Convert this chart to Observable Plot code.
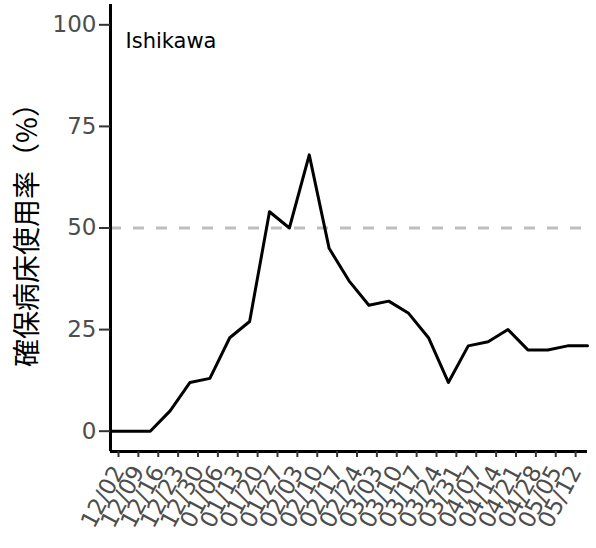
<!DOCTYPE html>
<html>
<head>
<meta charset="utf-8">
<script src="https://cdn.jsdelivr.net/npm/d3@7"></script>
<script src="https://cdn.jsdelivr.net/npm/@observablehq/plot@0.6"></script>
<style>
  html, body { margin: 0; padding: 0; background: #fff; }
  #chart svg { display: block; }
</style>
</head>
<body>
<div id="chart"></div>
<script>
// Weekly observation dates (last point has no tick label)
const dates = [
  "2020-12-02","2020-12-09","2020-12-16","2020-12-23","2020-12-30",
  "2021-01-06","2021-01-13","2021-01-20","2021-01-27","2021-02-03",
  "2021-02-10","2021-02-17","2021-02-24","2021-03-03","2021-03-10",
  "2021-03-17","2021-03-24","2021-03-31","2021-04-07","2021-04-14",
  "2021-04-21","2021-04-28","2021-05-05","2021-05-12","2021-05-19"
];
// Secured-bed occupancy rate (%)
const rate = [0,0,0,5,12,13,23,27,54,50,68,45,37,31,32,29,23,12,21,22,25,20,20,21,21];
// Tick labels on the x axis
const tickDates = dates.slice(0, 24);
const yTicks = [0, 25, 50, 75, 100];
const threshold = [50];
const prefecture = ["Ishikawa"];
const yTitle = ["確保病床使用率（%）"];

const parse = d3.utcParse("%Y-%m-%d");
const data = dates.map((d, i) => ({date: parse(d), rate: rate[i]}));
const xDomain = d3.extent(data, d => d.date);
const yDomain = [-5, 105];

const chart = Plot.plot({
  width: 596,
  height: 548,
  marginLeft: 110,
  marginRight: 9,
  marginTop: 4,
  marginBottom: 97,
  style: {fontFamily: "'DejaVu Sans', sans-serif", background: "#fff"},
  x: {type: "utc", domain: xDomain},
  y: {domain: yDomain},
  marks: [
    Plot.ruleY(threshold, {stroke: "#BEBEBE", strokeWidth: 2.8, strokeDasharray: "11,12"}),
    Plot.line(data, {x: "date", y: "rate", stroke: "#000", strokeWidth: 3}),
    Plot.ruleX([xDomain[0]], {stroke: "#000", strokeWidth: 3}),
    Plot.ruleY([yDomain[0]], {stroke: "#000", strokeWidth: 3}),
    Plot.axisY({ticks: yTicks, tickSize: 11, tickPadding: 3, fontSize: 23, fill: "#4D4D4D", stroke: "#333", strokeWidth: 2, label: null}),
    Plot.axisX({ticks: tickDates.map(parse), tickFormat: d3.utcFormat("%m/%d"), tickSize: 6, tickPadding: 10, tickRotate: -62, dx: 8, fontSize: 23, fill: "#4D4D4D", stroke: "#333", strokeWidth: 2, label: null}),
    Plot.text(prefecture, {frameAnchor: "top-left", dx: 15, dy: 29, fontSize: 21, textAnchor: "start", lineAnchor: "top", fill: "#000"}),
    Plot.text(yTitle, {frameAnchor: "left", dx: -82, rotate: -90, textAnchor: "middle", fontSize: 28, fontFamily: "'Noto Sans CJK JP'", fill: "#000"})
  ]
});
document.getElementById("chart").appendChild(chart);
</script>
</body>
</html>
